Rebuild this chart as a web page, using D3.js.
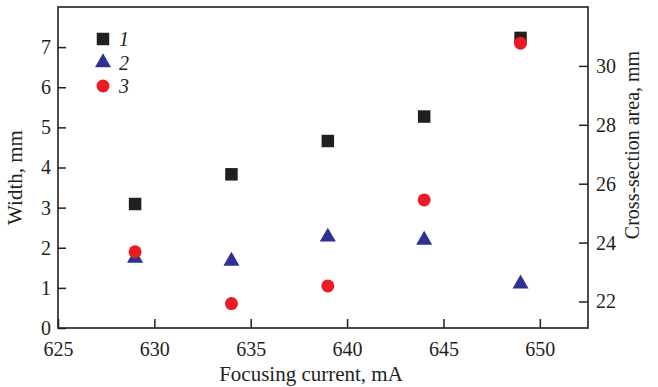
<!DOCTYPE html>
<html>
<head>
<meta charset="utf-8">
<script src="https://cdn.jsdelivr.net/npm/d3@7"></script>
<style>
  body { margin: 0; background: #fff; }
  text { font-family: "Liberation Serif", "Times New Roman", serif; fill: #231f20; }
</style>
</head>
<body>
<div id="chart"></div>
<script>
// Data
const currents = [629, 634, 639, 644, 649];
const width1 = [3.09, 3.83, 4.66, 5.27, 7.23];
const width2 = [1.74, 1.67, 2.27, 2.19, 1.1];
const area3 = [23.69, 21.93, 22.53, 25.45, 30.77];
const xTicks = [625, 630, 635, 640, 645, 650];
const yLeftTicks = [0, 1, 2, 3, 4, 5, 6, 7];
const yRightTicks = [22, 24, 26, 28, 30];
const legendLabels = ['1', '2', '3'];

// Dimensions
const WIDTH = 658;
const HEIGHT = 387;
const MARGIN = { TOP: 7, BOTTOM: 59, LEFT: 58, RIGHT: 70 };
const IW = WIDTH - MARGIN.LEFT - MARGIN.RIGHT;
const IH = HEIGHT - MARGIN.TOP - MARGIN.BOTTOM;

const COLORS = { sq: '#231f20', tri: '#2e3192', dot: '#ed1c24' };

const svg = d3
  .select('#chart')
  .append('svg')
  .attr('width', WIDTH)
  .attr('height', HEIGHT)
  .append('g')
  .attr('transform', `translate(${MARGIN.LEFT}, ${MARGIN.TOP})`);

// Scales
const x = d3.scaleLinear().domain([625, 652.5]).range([0, IW]);
const yL = d3.scaleLinear().domain([0, 8]).range([IH, 0]);
const yR = d3.scaleLinear().domain([21.1, 32]).range([IH, 0]);

// Axes (ticks point inward)
const xAxis = svg
  .append('g')
  .attr('transform', `translate(0, ${IH})`)
  .call(d3.axisBottom(x).tickValues(xTicks).tickSizeInner(-9).tickSizeOuter(0).tickPadding(14));

const yAxisL = svg
  .append('g')
  .call(d3.axisLeft(yL).tickValues(yLeftTicks).tickSizeInner(-8).tickSizeOuter(0).tickPadding(7));

const yAxisR = svg
  .append('g')
  .attr('transform', `translate(${IW}, 0)`)
  .call(d3.axisRight(yR).tickValues(yRightTicks).tickSizeInner(-9).tickSizeOuter(0).tickPadding(8));

[xAxis, yAxisL, yAxisR].forEach((g) => {
  g.select('.domain').remove();
  g.selectAll('.tick line').attr('stroke', '#231f20').attr('stroke-width', 1.5);
  g.selectAll('.tick text').style('font-size', '20px').attr('fill', '#231f20');
});

// Frame
svg
  .append('rect')
  .attr('x', 0)
  .attr('y', 0)
  .attr('width', IW)
  .attr('height', IH)
  .attr('fill', 'none')
  .attr('stroke', '#231f20')
  .attr('stroke-width', 1.6);

// Axis titles
svg
  .append('text')
  .attr('x', IW / 2 - 12)
  .attr('y', IH + 53)
  .attr('text-anchor', 'middle')
  .style('font-size', '21px')
  .text('Focusing current, mA');

svg
  .append('text')
  .attr('transform', `translate(${-36}, ${IH / 2 + 10}) rotate(-90)`)
  .attr('text-anchor', 'middle')
  .style('font-size', '21px')
  .text('Width, mm');

svg
  .append('text')
  .attr('transform', `translate(${IW + 51}, ${138}) rotate(-90)`)
  .attr('text-anchor', 'middle')
  .style('font-size', '20px')
  .text('Cross-section area, mm');

// Markers
const sym = {
  sq: d3.symbol().type(d3.symbolSquare).size(156),
  tri: d3.symbol().type(d3.symbolTriangle).size(112),
};

svg
  .selectAll('path.sq')
  .data(currents)
  .enter()
  .append('path')
  .attr('class', 'sq')
  .attr('d', sym.sq)
  .attr('transform', (d, i) => `translate(${x(d)}, ${yL(width1[i])})`)
  .attr('fill', COLORS.sq);

svg
  .selectAll('path.tri')
  .data(currents)
  .enter()
  .append('path')
  .attr('class', 'tri')
  .attr('d', sym.tri)
  .attr('transform', (d, i) => `translate(${x(d)}, ${yL(width2[i])})`)
  .attr('fill', COLORS.tri);

svg
  .selectAll('circle.dot')
  .data(currents)
  .enter()
  .append('circle')
  .attr('class', 'dot')
  .attr('cx', (d) => x(d))
  .attr('cy', (d, i) => yR(area3[i]))
  .attr('r', 6.5)
  .attr('fill', COLORS.dot);

// Legend
const legend = svg.append('g').attr('transform', 'translate(45, 32)');
const legendKeys = ['sq', 'tri', 'dot'];
legendKeys.forEach((k, i) => {
  const row = legend.append('g').attr('transform', `translate(0, ${i * 23.5})`);
  if (k === 'dot') {
    row.append('circle').attr('r', 6.5).attr('fill', COLORS.dot);
  } else {
    row.append('path').attr('d', sym[k]).attr('fill', COLORS[k]);
  }
  row
    .append('text')
    .attr('x', 16)
    .attr('y', 7)
    .style('font-size', '20px')
    .style('font-style', 'italic')
    .text(legendLabels[i]);
});
</script>
</body>
</html>
